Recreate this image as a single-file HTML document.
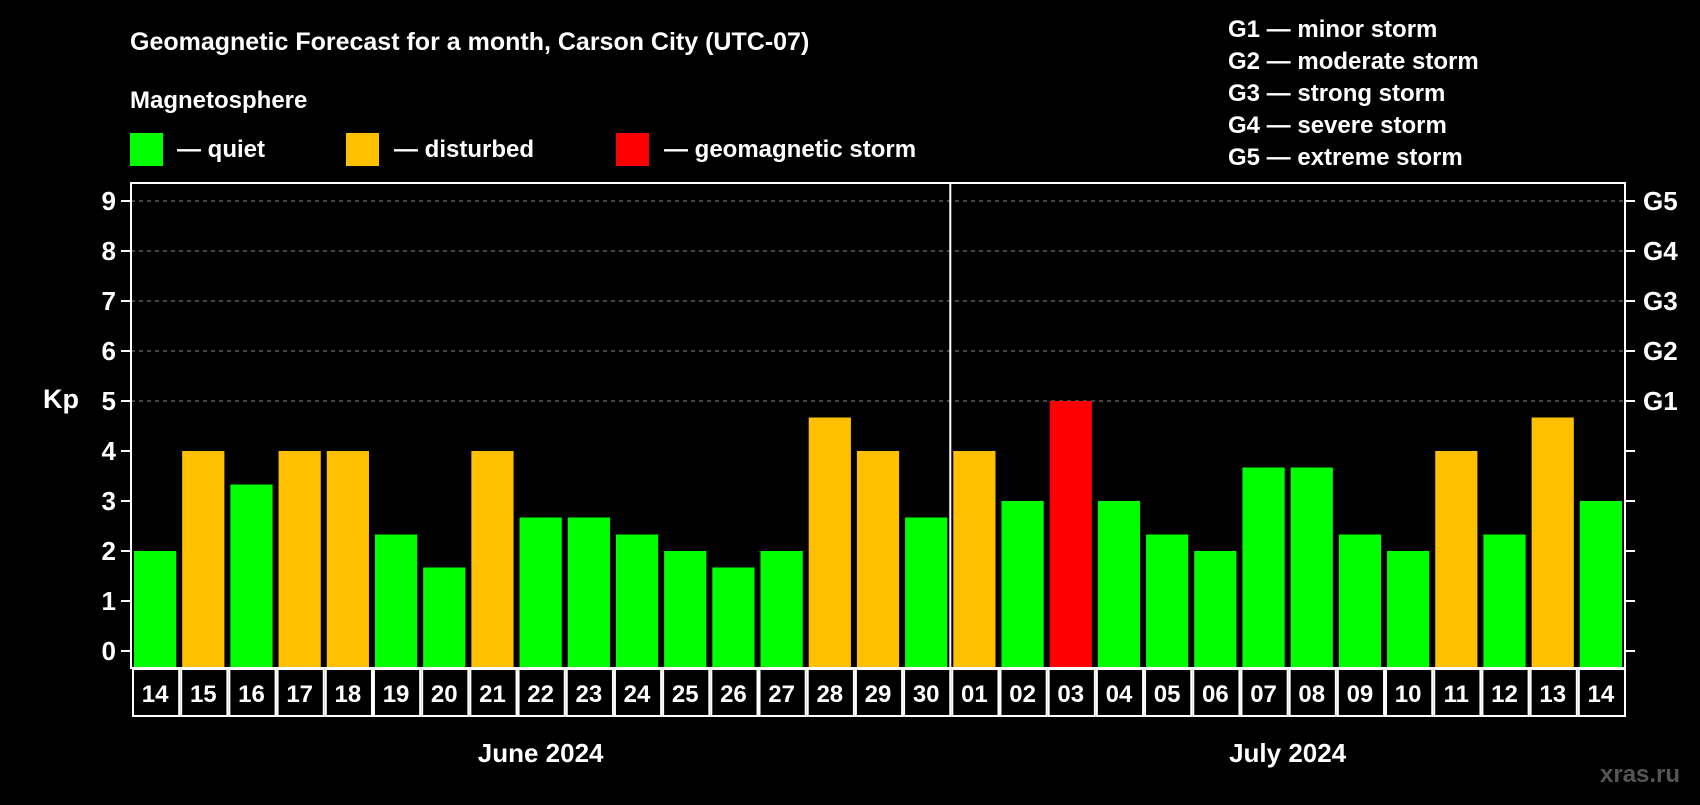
<!DOCTYPE html>
<html><head><meta charset="utf-8"><style>
body{margin:0;background:#000;width:1700px;height:800px;overflow:hidden;font-family:"Liberation Sans",sans-serif;font-weight:bold;color:#fff}
svg text{font-family:"Liberation Sans",sans-serif;font-weight:bold;fill:#fff}
</style></head><body>
<svg id="c" width="1700" height="800">
<text x="130" y="50" font-size="25">Geomagnetic Forecast for a month, Carson City (UTC-07)</text>
<text x="130" y="108" font-size="24">Magnetosphere</text>
<rect x="130" y="133" width="33" height="33" fill="#00ff00"/>
<text x="177" y="157" font-size="24">— quiet</text>
<rect x="346" y="133" width="33" height="33" fill="#ffc000"/>
<text x="394" y="157" font-size="24">— disturbed</text>
<rect x="616" y="133" width="33" height="33" fill="#ff0000"/>
<text x="664" y="157" font-size="24">— geomagnetic storm</text>
<g font-size="24">
<text x="1228" y="37">G1 — minor storm</text>
<text x="1228" y="69">G2 — moderate storm</text>
<text x="1228" y="101">G3 — strong storm</text>
<text x="1228" y="133">G4 — severe storm</text>
<text x="1228" y="165">G5 — extreme storm</text>
</g>
<text x="43" y="408" font-size="27">Kp</text>
<text x="1600" y="782" font-size="24" style="fill:#555">xras.ru</text>
<g id="plot"></g>
</svg>
<script>
const days=["14","15","16","17","18","19","20","21","22","23","24","25","26","27","28","29","30","01","02","03","04","05","06","07","08","09","10","11","12","13","14"];
const kp=[2,4,3.33,4,4,2.33,1.67,4,2.67,2.67,2.33,2,1.67,2,4.67,4,2.67,4,3,5,3,2.33,2,3.67,3.67,2.33,2,4,2.33,4.67,3];
const yTicks=[0,1,2,3,4,5,6,7,8,9];
const gLabels=["G1","G2","G3","G4","G5"];
const months=["June 2024","July 2024"];
const L=131,R=1625,T=183,B=668,Y0=651,Y9=201;
const slot=(R-L)/days.length;
const y=v=>Y0+(Y9-Y0)*v/9;
const x=i=>L+i*slot;
const g=document.getElementById('plot');
const NS="http://www.w3.org/2000/svg";
function mk(t,a,txt){const e=document.createElementNS(NS,t);for(const k in a)e.setAttribute(k,a[k]);if(txt!==undefined)e.textContent=txt;g.appendChild(e);return e;}
yTicks.forEach(v=>{
 if(v>=5){const l=mk('line',{x1:L,x2:R,y1:y(v),y2:y(v),stroke:'#888','stroke-dasharray':'4,4','stroke-width':1});
 
 }
 const t1=mk('line',{x1:L-10,x2:L,y1:y(v),y2:y(v),stroke:'#fff','stroke-width':2});
 
 
 const t2=mk('line',{x1:R,x2:R+10,y1:y(v),y2:y(v),stroke:'#fff','stroke-width':2});
 
 
 const tl=mk('text',{x:116,y:y(v)+9,'font-size':26,'text-anchor':'end'},String(v));
 
 
});
gLabels.forEach((s,i)=>{
 const t=mk('text',{x:1643,y:y(5+i)+9,'font-size':26},s);
 
 
});
kp.forEach((v,i)=>{
 const c=v>=5?'#ff0000':(v>=4?'#ffc000':'#00ff00');
 const r=mk('rect',{x:x(i)+3,y:y(v),width:slot-6,height:B-y(v),fill:c});
 
 
 const bx=mk('rect',{x:x(i)+2,y:B+1,width:slot-2,height:47,fill:'none',stroke:'#fff','stroke-width':2});
 
 
 const t=mk('text',{x:x(i)+slot/2,y:B+34,'font-size':24,'text-anchor':'middle'},days[i]);
 
 
});
const f=mk('rect',{x:L,y:T,width:R-L,height:B-T,fill:'none',stroke:'#fff','stroke-width':2});


const split=days.indexOf("01");
const d=mk('line',{x1:x(split),x2:x(split),y1:T,y2:B,stroke:'#fff','stroke-width':2});


const m1=mk('text',{x:(L+x(split))/2,y:762,'font-size':26,'text-anchor':'middle'},months[0]);


const m2=mk('text',{x:(x(split)+R)/2,y:762,'font-size':26,'text-anchor':'middle'},months[1]);


</script>
</body></html>
